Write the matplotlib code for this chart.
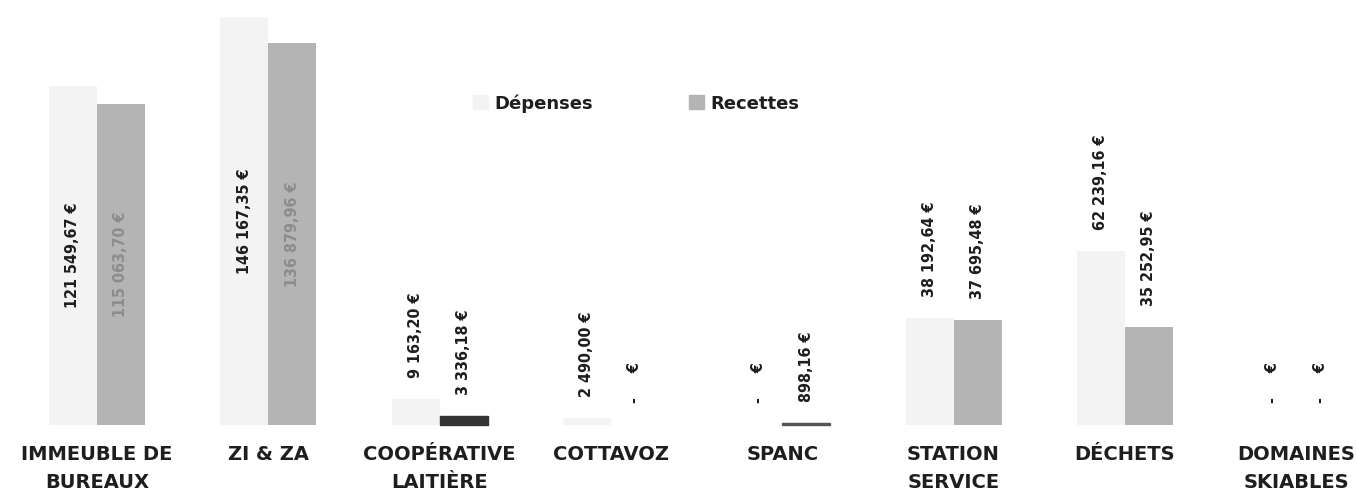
import numpy as np
import matplotlib
matplotlib.use('Agg')
import matplotlib.pyplot as plt
from matplotlib.patches import Patch
from matplotlib import font_manager

# ─────────────────────────────────────────────
# Data
# ─────────────────────────────────────────────
categories = ['IMMEUBLE DE\nBUREAUX', 'ZI & ZA', 'COOPÉRATIVE\nLAITIÈRE', 'COTTAVOZ',
              'SPANC', 'STATION\nSERVICE', 'DÉCHETS', 'DOMAINES\nSKIABLES']
depenses = [121549.67, 146167.35, 9163.20, 2490.00, 0.0, 38192.64, 62239.16, 0.0]
recettes = [115063.70, 136879.96, 3336.18, 0.0, 898.16, 37695.48, 35252.95, 0.0]

# ─────────────────────────────────────────────
# Style
# ─────────────────────────────────────────────
DEP_COLOR  = '#f3f3f3'
REC_COLOR  = '#b4b4b4'
TEXT_COLOR = '#1e1e1e'
W          = 0.28

names = {f.name for f in font_manager.fontManager.ttflist}
NARROW = 'Liberation Sans Narrow' if 'Liberation Sans Narrow' in names else 'DejaVu Sans'


def fmt_eur(v):
    if v == 0:
        return '-     €'
    s = f"{v:,.2f}".replace(',', ' ').replace('.', ',')
    return s + ' €'


fig = plt.figure(figsize=(13.57, 4.92), dpi=100)
ax = fig.add_axes([0, 0, 1, 1])
x = np.arange(len(categories))

b1 = ax.bar(x - W/2, depenses, W, color=DEP_COLOR)
b2 = ax.bar(x + W/2, recettes, W, color=REC_COLOR)
# scanned original shows the small recettes bars much darker
b2[2].set_color('#333333')
b2[4].set_color('#555555')

# px -> data scale (about 358 € per pixel)
ax.set_xlim(-0.566, 7.355)
ax.set_ylim(-24000, 152300)
px = 358.4

lab_kw = dict(rotation=90, ha='center', fontsize=11.5, fontweight='bold',
              family=NARROW, fontstretch='condensed')
for xs, vals, col_in in [(x - W/2, depenses, TEXT_COLOR), (x + W/2, recettes, '#8c8c8c')]:
    for xi, v in zip(xs, vals):
        if v > 100000:
            ax.text(xi, v/2, fmt_eur(v), va='center', color=col_in, **lab_kw)
        elif v == 0:
            ax.text(xi, 22*px, fmt_eur(v), va='bottom', color=TEXT_COLOR, **lab_kw)
        else:
            ax.text(xi, v + 21*px, fmt_eur(v), va='bottom', color=TEXT_COLOR, **lab_kw)

for xi, lab in zip(x, categories):
    ax.text(xi, -20*px, lab, ha='center', va='top', fontsize=14, fontweight='bold',
            color=TEXT_COLOR, linespacing=1.6)

handles = [Patch(color=DEP_COLOR, label='Dépenses'), Patch(color=REC_COLOR, label='Recettes')]
leg = ax.legend(handles=handles, loc='center', bbox_to_anchor=(0.469, 0.79), ncol=2,
                frameon=False, handlelength=0.8, handleheight=0.8, columnspacing=5.3,
                handletextpad=0.4, prop={'family': NARROW, 'weight': 'bold', 'size': 13})
for t in leg.get_texts():
    t.set_color(TEXT_COLOR)

ax.axis('off')
fig.savefig('out.png', dpi=100)
